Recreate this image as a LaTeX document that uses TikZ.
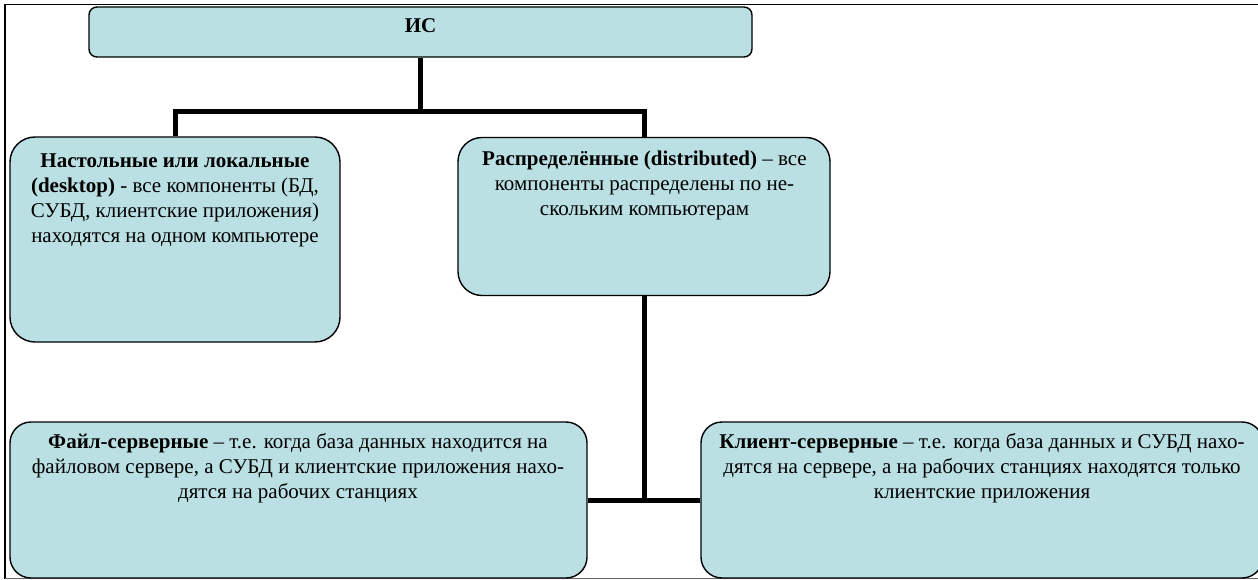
\documentclass[tikz,border=0pt]{standalone}
\usepackage{fontspec}
\setmainfont{Liberation Serif}
\definecolor{boxfill}{RGB}{187,224,227}
\begin{document}
\begin{tikzpicture}[x=1pt,y=-1pt,
  box/.style={draw=black, line width=1.4pt, fill=boxfill, inner sep=0pt},
  conn/.style={line width=5pt, line join=miter},
  txt/.style={align=center, inner sep=0pt, anchor=north, font=\fontsize{21}{24.7}\selectfont},
  frame/.style={line width=1.6pt}]
\useasboundingbox (0,0) rectangle (1258,580);
% outer frame
\draw[frame] (5,578.5) -- (5,4.5) -- (1258,4.5);
\draw[line width=1.2pt, black!60] (5,578.5) -- (1258,578.5);
% boxes
\node[box, rounded corners=8pt, minimum width=663pt, minimum height=50pt] (is) at (420.5,32) {};
\node[box, rounded corners=25pt, minimum width=330pt, minimum height=205pt] (desk) at (175,239.5) {};
\node[box, rounded corners=24pt, minimum width=372pt, minimum height=158pt] (dist) at (644,216.5) {};
\node[box, rounded corners=21pt, minimum width=577pt, minimum height=156pt] (file) at (298.5,500) {};
\node[box, rounded corners=21pt, minimum width=562pt, minimum height=156pt] (client) at (982,500) {};
% texts
\node[txt] (istxt) at (420.5,18) {\textbf{ИС}};
\node[txt] (desktxt) at (175,154) {\textbf{Настольные или локальные}\\\textbf{(desktop)} - все компоненты (БД,\\СУБД, клиентские приложения)\\находятся на одном компьютере};
\node[txt] (disttxt) at (644.5,151.2) {\textbf{Распределённые (distributed)} – все\\компоненты распределены по не-\\скольким компьютерам};
\node[txt] (filetxt) at (298,433.5) {\textbf{Файл-серверные} – т.е. когда база данных находится на\\файловом сервере, а СУБД и клиентские приложения нахо-\\дятся на рабочих станциях};
\node[txt] (clienttxt) at (982,433.5) {\textbf{Клиент-серверные} – т.е. когда база данных и СУБД нахо-\\дятся на сервере, а на рабочих станциях находятся только\\клиентские приложения};
% connectors
\coordinate (bar) at (420,112);
\draw[conn] (is.south -| bar) -- (bar);
\draw[conn] (desk.north) |- (bar) -| (dist.north);
\draw[conn] (dist.south) -- (dist.south |- file.east);
\draw[conn] (file.east) -- (client.west);
\end{tikzpicture}
\end{document}
